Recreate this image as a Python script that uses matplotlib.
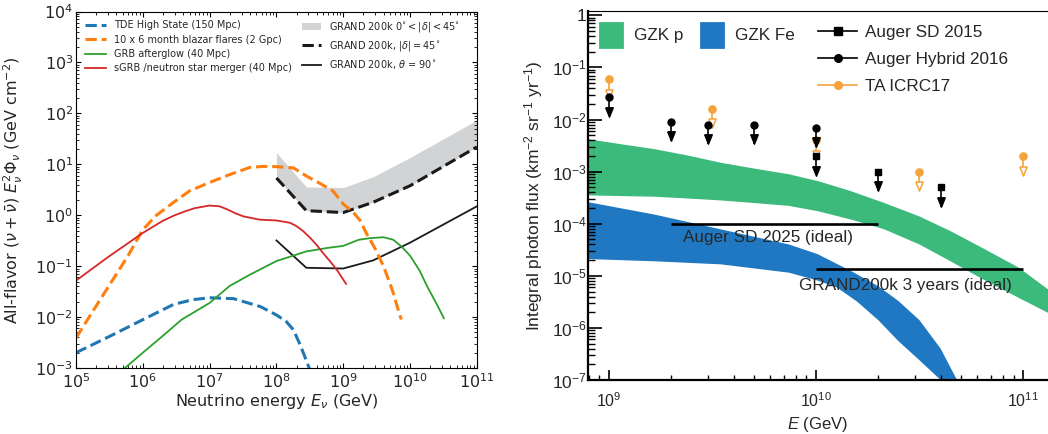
import numpy as np
import matplotlib
matplotlib.use('Agg')
import matplotlib.pyplot as plt
from matplotlib.patches import Patch
from matplotlib.lines import Line2D
from matplotlib.ticker import NullFormatter

plt.rcParams['mathtext.rm'] = 'Liberation Sans'
plt.rcParams['mathtext.it'] = 'Liberation Sans:italic'
plt.rcParams['mathtext.bf'] = 'Liberation Sans:bold'

# ---------------- left panel data (GeV, GeV cm^-2) ----------------
tde_E = [1e5, 3.2e5, 1e6, 2.9e6, 5.6e6, 1e7, 2.3e7, 5.8e7, 1e8, 1.4e8, 1.8e8, 2.2e8, 2.6e8, 3e8, 3.3e8]
tde_F = [0.002, 0.0042, 0.0089, 0.0178, 0.022, 0.024, 0.023, 0.016, 0.011, 0.0082, 0.0056,
         0.0031, 0.0018, 0.0011, 0.0008]

blazar_E = [1e5, 2.3e5, 6e5, 1e6, 1.6e6, 2.9e6, 5e6, 1e7, 2e7, 4e7, 6.3e7, 1e8, 1.8e8,
            2.8e8, 4.5e8, 7e8, 1e9, 1.4e9, 1.8e9, 2.2e9, 3e9, 4e9, 5.5e9, 7e9, 7.4e9]
blazar_F = [0.0039, 0.022, 0.16, 0.52, 1.0, 1.8, 3.0, 4.4, 6.3, 8.7, 9.1, 9.0, 8.5,
            5.9, 4.2, 3.0, 1.66, 1.15, 0.78, 0.45, 0.22, 0.1, 0.032, 0.011, 0.009]

grb_E = [5.4e5, 1e6, 2e6, 3.8e6, 1e7, 2e7, 4e7, 1e8, 2.8e8, 6e8, 1e9, 1.7e9, 2.5e9, 4e9,
         5.6e9, 7.5e9, 1e10, 1.4e10, 1.8e10, 2.5e10, 3.2e10]
grb_F = [1e-3, 2e-3, 4.3e-3, 8.9e-3, 0.019, 0.041, 0.068, 0.126, 0.195, 0.23, 0.25, 0.33,
         0.355, 0.37, 0.33, 0.24, 0.16, 0.08, 0.04, 0.018, 0.0095]

sgrb_E = [1e5, 3e5, 1e6, 2e6, 3e6, 4.5e6, 6e6, 1e7, 1.4e7, 1.8e7, 2.4e7, 3.2e7, 5.6e7,
          1e8, 1.6e8, 2e8, 2.5e8, 3.2e8, 4e8, 5e8, 6.3e8, 8e8, 1.1e9]
sgrb_F = [0.052, 0.15, 0.45, 0.78, 1.0, 1.22, 1.38, 1.55, 1.5, 1.32, 1.1, 0.95, 0.82,
          0.79, 0.71, 0.61, 0.49, 0.36, 0.26, 0.18, 0.126, 0.085, 0.045]

grand_E = [1e8, 2.8e8, 1e9, 2.8e9, 1e10, 1e11]
grand_band_hi = [17, 3.6, 3.5, 5.7, 13.6, 74]
grand_45 = [5.4, 1.23, 1.13, 1.8, 3.8, 22]
grand_90 = [0.32, 0.093, 0.09, 0.13, 0.29, 1.5]

# ---------------- right panel data (GeV, km^-2 sr^-1 yr^-1) ----------------
gzk_E = [7.9e8, 1.12e9, 1.66e9, 2.4e9, 3.47e9, 5e9, 7.4e9, 1.02e10, 1.48e10, 2.14e10,
         3.16e10, 4.47e10, 6.3e10, 9.5e10, 1.32e11, 1.41e11]
gzkp_hi = [4.2e-3, 3.4e-3, 2.7e-3, 2.04e-3, 1.48e-3, 1.15e-3, 8.9e-4, 6.6e-4, 4.2e-4, 2.5e-4,
           1.38e-4, 7.2e-5, 3.5e-5, 1.45e-5, 5.5e-6, 4.0e-6]
gzkp_lo = [3.5e-4, 3.4e-4, 3.3e-4, 3.05e-4, 2.8e-4, 2.5e-4, 2.2e-4, 1.74e-4, 1.2e-4, 7.8e-5,
           4.0e-5, 1.9e-5, 8.9e-6, 3.8e-6, 1.95e-6, 1.66e-6]

fe_hi_E = [7.9e8, 1.66e9, 3.47e9, 7.4e9, 1.02e10, 1.48e10, 2e10, 2.5e10, 3.16e10, 4e10,
           4.8e10, 5.25e10]
fe_hi_F = [2.6e-4, 1.5e-4, 7.8e-5, 4.0e-5, 2.6e-5, 1.23e-5, 6.3e-6, 3.3e-6, 1.41e-6,
           4.0e-7, 1.0e-7, 5e-8]
fe_lo_E = [7.9e8, 1.66e9, 3.47e9, 7.4e9, 1.02e10, 1.26e10, 1.58e10, 2e10, 2.5e10, 3.16e10,
           4e10, 4.37e10]
fe_lo_F = [2.1e-5, 1.9e-5, 1.66e-5, 1.15e-5, 8.1e-6, 6.0e-6, 3.2e-6, 1.41e-6, 5.6e-7,
           2.4e-7, 1.0e-7, 5e-8]

sd15_E = [1e10, 2e10, 4e10]
sd15_F = [2e-3, 1e-3, 5e-4]
hyb16_E = [1e9, 2e9, 3e9, 5e9, 1e10]
hyb16_F = [2.7e-2, 9e-3, 8e-3, 8e-3, 7e-3]
ta17_E = [1e9, 3.16e9, 1e10, 3.16e10, 1e11]
ta17_F = [6e-2, 1.6e-2, 4e-3, 1e-3, 2e-3]

sd25_E = [2e9, 2e10]
sd25_F = 1e-4
grand3_E = [1e10, 1e11]
grand3_F = 1.35e-5

green = '#3cba7c'
blue = '#1f78c1'
ta_orange = '#f6a23a'
txt = '#262626'

fig = plt.figure(figsize=(10.48, 4.34), dpi=100)

# ================= left panel =================
ax = fig.add_axes([0.0725, 0.152, 0.3826, 0.8214])
ax.set_xscale('log')
ax.set_yscale('log')

ax.fill_between(grand_E, grand_45, grand_band_hi, color='#d2d3d5', lw=0)
l45, = ax.plot(grand_E, grand_45, color='#1a1a1a', ls='--', lw=2.2,
               label=r'GRAND 200k, $|\delta| = 45^{\circ}$')
l90, = ax.plot(grand_E, grand_90, color='#1a1a1a', lw=1.3,
               label=r'GRAND 200k, $\theta$ = 90$^{\circ}$')

l1, = ax.plot(tde_E, tde_F, color='#1f77b4', ls='--', lw=2.2, label='TDE High State (150 Mpc)')
l2, = ax.plot(blazar_E, blazar_F, color='#ff7f0e', ls='--', lw=2.2,
              label='10 x 6 month blazar flares (2 Gpc)')
l3, = ax.plot(grb_E, grb_F, color='#2ca02c', lw=1.3, label='GRB afterglow (40 Mpc)')
l4, = ax.plot(sgrb_E, sgrb_F, color='#d62728', lw=1.3, label='sGRB /neutron star merger (40 Mpc)')

ax.set_xlim(1e5, 1e11)
ax.set_ylim(1e-3, 1e4)
ax.tick_params(which='both', direction='in', top=True, right=True, labelsize=11.5,
               labelcolor=txt)
ax.tick_params(axis='y', pad=2)
ax.tick_params(axis='x', pad=3)
ax.tick_params(which='major', length=3.5)
ax.tick_params(which='minor', length=2)
ax.set_xlabel(r'Neutrino energy $E_{\nu}$ (GeV)', fontsize=11.5, color=txt)
ax.set_ylabel(r'All-flavor $(\nu + \bar{\nu})$ $E_{\nu}^{2}\Phi_{\nu}$ (GeV cm$^{-2}$)',
              fontsize=11.5, color=txt)
ax.xaxis.set_label_coords(0.5, -0.068)
ax.yaxis.set_label_coords(-0.128, 0.5)

leg1 = ax.legend(handles=[l1, l2, l3, l4], loc='upper left', fontsize=7, frameon=False,
                 handlelength=2.2, labelspacing=0.45)
for t in leg1.get_texts():
    t.set_color(txt)
ax.add_artist(leg1)
gpatch = Patch(facecolor='#d2d3d5', edgecolor='none',
               label=r'GRAND 200k $0^{\circ} < |\delta| < 45^{\circ}$')
leg2 = ax.legend(handles=[gpatch, l45, l90], loc='upper left', bbox_to_anchor=(0.5415, 1.0),
                 fontsize=7, frameon=False, handlelength=2.0, labelspacing=0.5)
for t in leg2.get_texts():
    t.set_color(txt)

# ================= right panel =================
bx = fig.add_axes([0.5611, 0.1244, 0.4389, 0.8502])
bx.set_xscale('log')
bx.set_yscale('log')

bx.fill(np.r_[gzk_E, gzk_E[::-1]], np.r_[gzkp_hi, gzkp_lo[::-1]], color=green, lw=0, zorder=1)
bx.fill(np.r_[fe_hi_E, fe_lo_E[::-1]], np.r_[fe_hi_F, fe_lo_F[::-1]], color=blue, lw=0, zorder=1)

bx.hlines(sd25_F, sd25_E[0], sd25_E[1], color='k', lw=1.9, zorder=3)
bx.hlines(grand3_F, grand3_E[0], grand3_E[1], color='k', lw=1.9, zorder=3)
bx.text(2.27e9, 5.4e-5, 'Auger SD 2025 (ideal)', fontsize=12.3, color=txt,
        family='Liberation Sans', va='center', zorder=4)
bx.text(8.3e9, 6.4e-6, 'GRAND200k 3 years (ideal)', fontsize=12.3, color=txt,
        family='Liberation Sans', va='center', zorder=4)

# upper limits: marker, stem and arrow head below
tip = 10 ** -0.37
head = 10 ** -0.28
tri = [(-0.4, 0.5), (0.4, 0.5), (0, -0.5), (-0.4, 0.5)]

ta_E = np.array(ta17_E)
ta_F = np.array(ta17_F)
bx.vlines(ta_E, ta_F * head, ta_F, color=ta_orange, lw=1.2, zorder=5)
bx.plot(ta_E, ta_F * head, ls='none', marker=tri, ms=6.5, mfc='white',
        mec=ta_orange, mew=1.1, zorder=6)
bx.plot(ta_E, ta_F, ls='none', marker='o', ms=5.2, color=ta_orange, zorder=6)

for E, F, m in [(hyb16_E, hyb16_F, 'o'), (sd15_E, sd15_F, 's')]:
    E = np.array(E)
    F = np.array(F)
    bx.vlines(E, F * tip, F, color='k', lw=1.2, zorder=7)
    bx.plot(E, F * head, ls='none', marker=tri, ms=6.8, color='k', zorder=8)
    bx.plot(E, F, ls='none', marker=m, ms=5.0, color='k', zorder=8)

bx.set_xlim(7.93e8, 1.32e11)
bx.set_ylim(1e-7, 1.21)

ymaj = [1e-7, 1e-6, 1e-5, 1e-4, 1e-3, 1e-2, 1e-1, 1]
ylab = ['10$^{-7}$', '10$^{-6}$', '10$^{-5}$', '10$^{-4}$', '10$^{-3}$', '10$^{-2}$',
        '10$^{-1}$', '1']
bx.set_yticks(ymaj, labels=ylab, math_fontfamily='custom', family='Liberation Sans',
              fontsize=12.5, color=txt)
bx.set_xticks([1e9, 1e10, 1e11], labels=['10$^{9}$', '10$^{10}$', '10$^{11}$'],
              math_fontfamily='custom', family='Liberation Sans', fontsize=11.5, color=txt)
bx.xaxis.set_minor_formatter(NullFormatter())
bx.yaxis.set_minor_formatter(NullFormatter())
bx.tick_params(which='both', direction='in', top=False, right=False, color='k')
bx.tick_params(axis='y', which='major', length=10, width=1.2, pad=1)
bx.tick_params(axis='y', which='minor', length=5, width=1.0)
bx.tick_params(axis='x', which='major', length=7, width=1.2, pad=8)
bx.tick_params(axis='x', which='minor', length=3.5, width=1.0)
for s in ['left', 'bottom']:
    bx.spines[s].set_linewidth(1.6)
bx.spines['top'].set_linewidth(0.8)
bx.spines['right'].set_visible(False)

bx.set_xlabel('$E$ (GeV)', fontsize=12, color=txt, family='Liberation Sans',
              math_fontfamily='custom')
bx.set_ylabel('Integral photon flux (km$^{-2}$ sr$^{-1}$ yr$^{-1}$)', fontsize=12.5,
              color=txt, family='Liberation Sans', math_fontfamily='custom')
bx.xaxis.set_label_coords(0.5, -0.095)
bx.yaxis.set_label_coords(-0.094, 0.5)

gzk_handles = [Patch(facecolor=green, edgecolor=green, lw=2, joinstyle='round', label='GZK p'),
               Patch(facecolor=blue, edgecolor=blue, lw=2, joinstyle='round', label='GZK Fe')]
leg3 = bx.legend(handles=gzk_handles, loc='upper left', ncol=2, frameon=False,
                 prop={'family': 'Liberation Sans', 'size': 12.3},
                 handlelength=1.3, handleheight=1.75, handletextpad=0.7,
                 columnspacing=1.0, borderaxespad=0.2, borderpad=0.5)
for t in leg3.get_texts():
    t.set_color(txt)
bx.add_artist(leg3)

pt_handles = [Line2D([], [], color='k', marker='s', ms=5.5, lw=1.2, label='Auger SD 2015'),
              Line2D([], [], color='k', marker='o', ms=5.5, lw=1.2, label='Auger Hybrid 2016'),
              Line2D([], [], color=ta_orange, marker='o', ms=5.5, lw=1.2, label='TA ICRC17')]
leg4 = bx.legend(handles=pt_handles, loc='upper left', bbox_to_anchor=(0.5, 0.963),
                 frameon=False, prop={'family': 'Liberation Sans', 'size': 12.3},
                 handlelength=2.3, handletextpad=0.45, labelspacing=0.72,
                 borderaxespad=0, borderpad=0)
for t in leg4.get_texts():
    t.set_color(txt)

fig.savefig('out.png', dpi=100)
